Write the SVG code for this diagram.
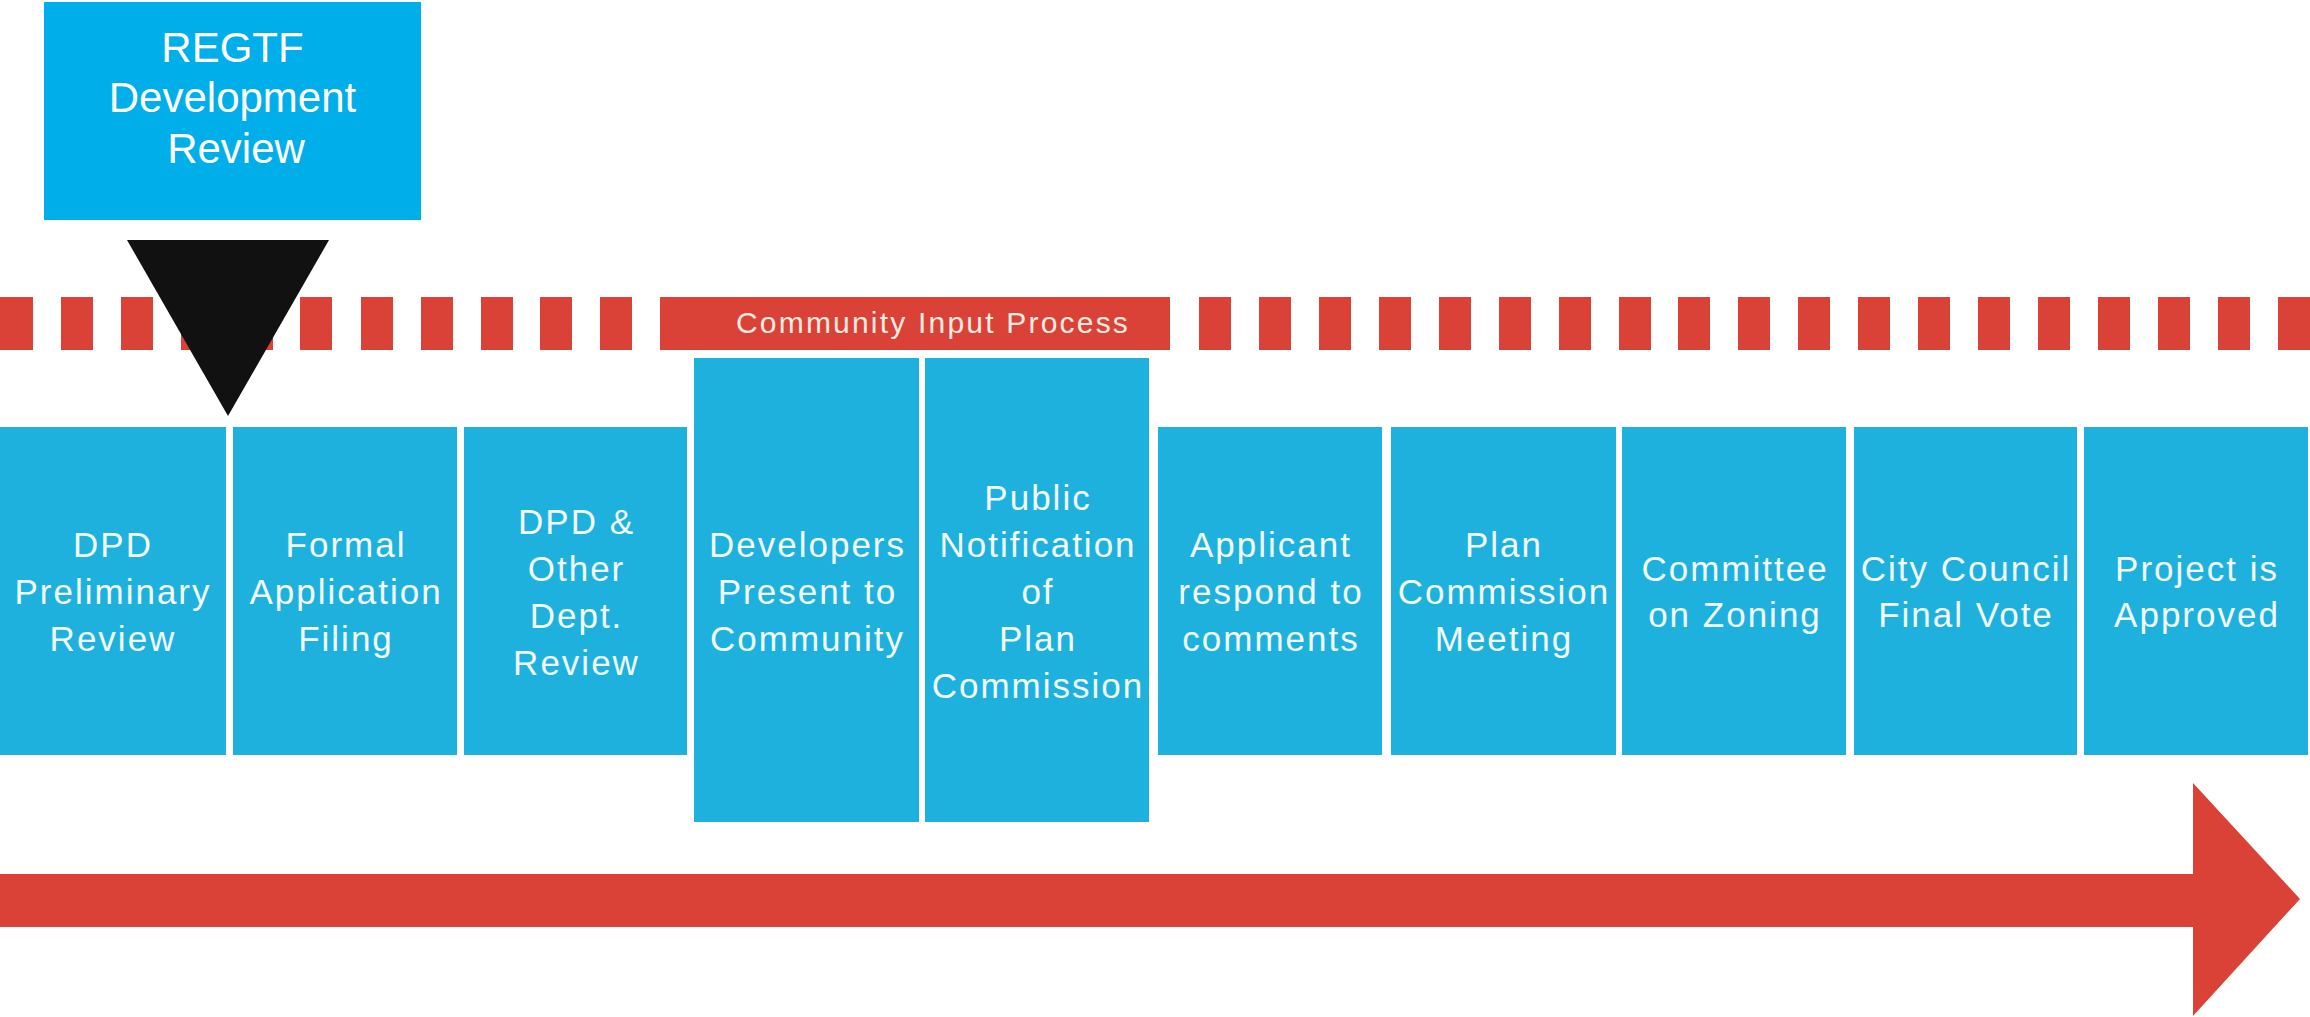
<svg xmlns="http://www.w3.org/2000/svg" width="2310" height="1017" viewBox="0 0 2310 1017">
<defs>
<style>
.dash{fill:#DA4237}
.step{fill:#1EB1DE}
.lbl{font-family:"Liberation Sans",Arial,sans-serif;font-size:35px;letter-spacing:2px;fill:#F2FAFC;text-anchor:middle}
.top{font-family:"Liberation Sans",Arial,sans-serif;font-size:42px;fill:#FFFFFF;text-anchor:middle}
.cip{font-family:"Liberation Sans",Arial,sans-serif;font-size:30px;letter-spacing:2.2px;fill:#F8EBE2;text-anchor:middle}
</style>
</defs>
<rect width="2310" height="1017" fill="#FFFFFF"/>
<g id="dashes">
<rect class="dash" x="0" y="297" width="33" height="53"/>
<rect class="dash" x="61" y="297" width="32" height="53"/>
<rect class="dash" x="121" y="297" width="32" height="53"/>
<rect class="dash" x="181" y="297" width="32" height="53"/>
<rect class="dash" x="241" y="297" width="32" height="53"/>
<rect class="dash" x="300" y="297" width="32" height="53"/>
<rect class="dash" x="361" y="297" width="32" height="53"/>
<rect class="dash" x="421" y="297" width="32" height="53"/>
<rect class="dash" x="481" y="297" width="32" height="53"/>
<rect class="dash" x="540" y="297" width="32" height="53"/>
<rect class="dash" x="600" y="297" width="32" height="53"/>
<rect class="dash" x="1199" y="297" width="32" height="53"/>
<rect class="dash" x="1259" y="297" width="32" height="53"/>
<rect class="dash" x="1319" y="297" width="32" height="53"/>
<rect class="dash" x="1379" y="297" width="32" height="53"/>
<rect class="dash" x="1439" y="297" width="32" height="53"/>
<rect class="dash" x="1499" y="297" width="32" height="53"/>
<rect class="dash" x="1559" y="297" width="32" height="53"/>
<rect class="dash" x="1619" y="297" width="32" height="53"/>
<rect class="dash" x="1678" y="297" width="32" height="53"/>
<rect class="dash" x="1738" y="297" width="32" height="53"/>
<rect class="dash" x="1798" y="297" width="32" height="53"/>
<rect class="dash" x="1858" y="297" width="32" height="53"/>
<rect class="dash" x="1918" y="297" width="32" height="53"/>
<rect class="dash" x="1978" y="297" width="32" height="53"/>
<rect class="dash" x="2038" y="297" width="32" height="53"/>
<rect class="dash" x="2098" y="297" width="32" height="53"/>
<rect class="dash" x="2158" y="297" width="32" height="53"/>
<rect class="dash" x="2218" y="297" width="32" height="53"/>
<rect class="dash" x="2278" y="297" width="32" height="53"/>
</g>
<g id="community-input">
<rect class="dash" x="660" y="297" width="510" height="53"/>
<text class="cip" x="933" y="333">Community Input Process</text>
</g>
<g id="regtf">
<rect x="44" y="2" width="377" height="218" fill="#00AEEA"/>
<text class="top" x="232.5" y="62">REGTF</text>
<text class="top" x="232.5" y="112">Development</text>
<text class="top" x="236" y="163">Review</text>
</g>
<g id="connectors">
<polygon points="127,240 329,240 228,416" fill="#111111"/>
<polygon points="0,874 2193,874 2193,783 2300,899 2193,1016 2193,927 0,927" fill="#DA4237"/>
</g>
<g id="s1">
<rect class="step" x="0" y="427" width="226" height="328"/>
<text class="lbl" x="113" y="557">DPD</text>
<text class="lbl" x="113" y="604">Preliminary</text>
<text class="lbl" x="113" y="651">Review</text>
</g>
<g id="s2">
<rect class="step" x="233" y="427" width="224" height="328"/>
<text class="lbl" x="346" y="557">Formal</text>
<text class="lbl" x="346" y="604">Application</text>
<text class="lbl" x="346" y="651">Filing</text>
</g>
<g id="s3">
<rect class="step" x="464" y="427" width="223" height="328"/>
<text class="lbl" x="576.5" y="533.5">DPD &amp;</text>
<text class="lbl" x="576.5" y="580.5">Other</text>
<text class="lbl" x="576.5" y="627.5">Dept.</text>
<text class="lbl" x="576.5" y="674.5">Review</text>
</g>
<g id="s4">
<rect class="step" x="694" y="358" width="225" height="464"/>
<text class="lbl" x="807.5" y="557">Developers</text>
<text class="lbl" x="807.5" y="604">Present to</text>
<text class="lbl" x="807.5" y="651">Community</text>
</g>
<g id="s5">
<rect class="step" x="925" y="358" width="224" height="464"/>
<text class="lbl" x="1038" y="510">Public</text>
<text class="lbl" x="1038" y="557">Notification</text>
<text class="lbl" x="1038" y="604">of</text>
<text class="lbl" x="1038" y="651">Plan</text>
<text class="lbl" x="1038" y="698">Commission</text>
</g>
<g id="s6">
<rect class="step" x="1158" y="427" width="224" height="328"/>
<text class="lbl" x="1271" y="557">Applicant</text>
<text class="lbl" x="1271" y="604">respond to</text>
<text class="lbl" x="1271" y="651">comments</text>
</g>
<g id="s7">
<rect class="step" x="1391" y="427" width="225" height="328"/>
<text class="lbl" x="1504" y="557">Plan</text>
<text class="lbl" x="1504" y="604">Commission</text>
<text class="lbl" x="1504" y="651">Meeting</text>
</g>
<g id="s8">
<rect class="step" x="1622" y="427" width="224" height="328"/>
<text class="lbl" x="1735" y="581">Committee</text>
<text class="lbl" x="1735" y="627">on Zoning</text>
</g>
<g id="s9">
<rect class="step" x="1854" y="427" width="223" height="328"/>
<text class="lbl" x="1966" y="581">City Council</text>
<text class="lbl" x="1966" y="627">Final Vote</text>
</g>
<g id="s10">
<rect class="step" x="2084" y="427" width="224" height="328"/>
<text class="lbl" x="2197" y="581">Project is</text>
<text class="lbl" x="2197" y="627">Approved</text>
</g>
</svg>
